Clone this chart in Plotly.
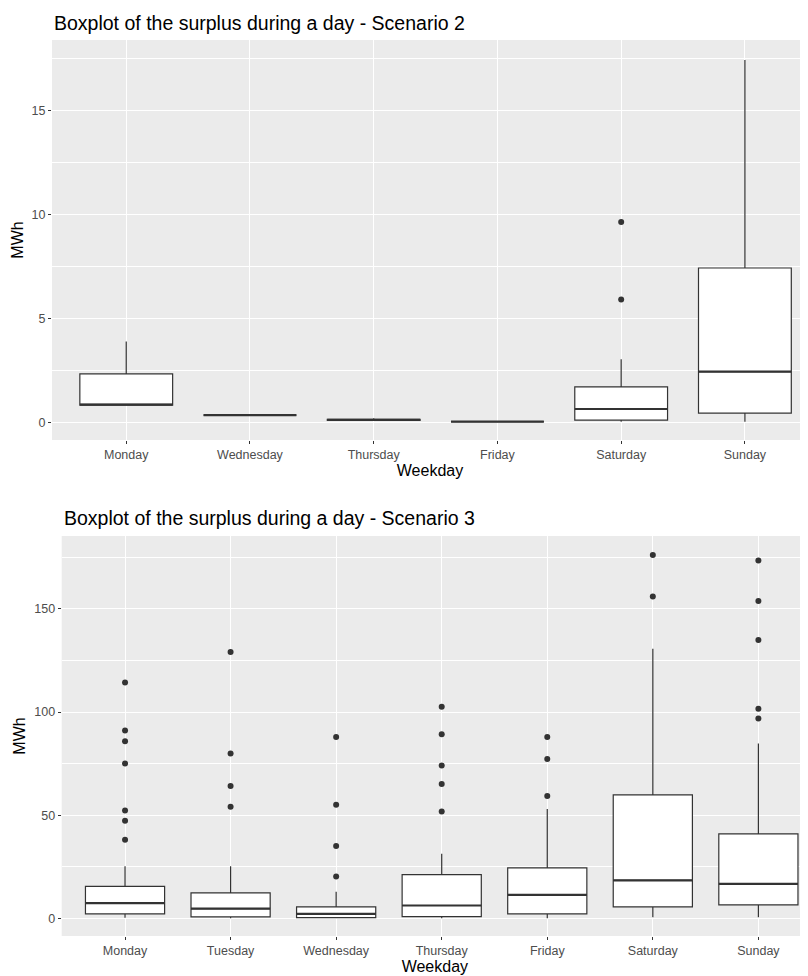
import plotly.graph_objects as go

# ---------------- Data: Scenario 2 ----------------
days2 = ["Monday", "Wednesday", "Thursday", "Friday", "Saturday", "Sunday"]
low2 = [0.85, 0.38, 0.12, 0.06, 0.06, 0.06]
q1_2 = [0.85, 0.38, 0.12, 0.06, 0.14, 0.47]
med2 = [0.88, 0.38, 0.15, 0.06, 0.67, 2.47]
q3_2 = [2.36, 0.38, 0.17, 0.06, 1.73, 7.45]
up2 = [3.91, 0.38, 0.22, 0.06, 3.06, 17.45]
out2 = [[], [], [], [], [9.66, 5.93], []]

# ---------------- Data: Scenario 3 ----------------
days3 = ["Monday", "Tuesday", "Wednesday", "Thursday", "Friday", "Saturday", "Sunday"]
low3 = [0.3, 0.0, 0.0, 0.0, 0.0, 0.5, 0.5]
q1_3 = [2.1, 0.7, 0.3, 0.8, 2.1, 5.5, 6.5]
med3 = [7.3, 4.7, 2.1, 6.2, 11.3, 18.4, 16.7]
q3_3 = [15.5, 12.3, 5.5, 21.2, 24.4, 59.8, 40.9]
up3 = [25.2, 25.2, 12.9, 31.3, 53.0, 130.7, 84.8]
out3 = [
    [114.3, 91.1, 85.8, 75.1, 52.3, 47.3, 38.1],
    [129.1, 79.9, 64.1, 54.1],
    [87.9, 55.1, 35.1, 20.2],
    [102.6, 89.3, 74.1, 65.1, 51.8],
    [87.9, 77.2, 59.3],
    [176.2, 156.0],
    [173.5, 153.9, 134.9, 101.6, 96.9],
]

BOXW = 0.75
LINE = "#333333"
FONT = "Liberation Sans, Arial, sans-serif"
W, H = 800, 968  # page body has an 8px margin

fig = go.Figure()


def add_panel(days, low, q1, med, q3, up, outs, xa, ya):
    pos = list(range(len(days)))
    fig.add_trace(go.Box(
        x=pos, q1=q1, median=med, q3=q3, lowerfence=low, upperfence=up,
        width=BOXW, whiskerwidth=0, fillcolor="white", line=dict(color=LINE, width=1.2),
        boxpoints=False, xaxis=xa, yaxis=ya, hoverinfo="skip", showlegend=False,
    ))
    mx, my = [], []
    for i, m in enumerate(med):
        mx += [i - BOXW / 2, i + BOXW / 2, None]
        my += [m, m, None]
    fig.add_trace(go.Scatter(x=mx, y=my, mode="lines", line=dict(color=LINE, width=2.2),
                             xaxis=xa, yaxis=ya, hoverinfo="skip", showlegend=False))
    ox, oy = [], []
    for i, o in enumerate(outs):
        ox += [i] * len(o)
        oy += o
    fig.add_trace(go.Scatter(x=ox, y=oy, mode="markers", marker=dict(color=LINE, size=6),
                             xaxis=xa, yaxis=ya, hoverinfo="skip", showlegend=False))


add_panel(days2, low2, q1_2, med2, q3_2, up2, out2, "x", "y")
add_panel(days3, low3, q1_3, med3, q3_3, up3, out3, "x2", "y2")

tickfont = dict(family=FONT, size=12.5, color="#4D4D4D")
titlefont = dict(family=FONT, size=16, color="black")

common_x = dict(showgrid=True, gridcolor="white", gridwidth=1.1, zeroline=False,
                ticks="outside", ticklen=3, tickcolor=LINE, tickwidth=1,
                tickfont=tickfont, showline=False, automargin=False)
common_y = dict(showgrid=True, gridcolor="white", gridwidth=1.1, zeroline=False,
                ticks="outside", ticklen=3, tickcolor=LINE, tickwidth=1,
                tickfont=tickfont, showline=False, automargin=False)

fig.update_layout(
    width=W, height=H,
    margin=dict(l=0, r=0, t=0, b=0, autoexpand=False),
    paper_bgcolor="white", plot_bgcolor="#EBEBEB",
    font=dict(family=FONT),
    xaxis=dict(common_x, domain=[44 / W, 1], anchor="y",
               range=[-0.6, 5.51], tickvals=list(range(len(days2))), ticktext=days2,
               title=dict(text="Weekday", font=titlefont, standoff=3)),
    yaxis=dict(common_y, domain=[1 - 432 / H, 1 - 32 / H], anchor="x",
               range=[-0.82, 18.41], tick0=0, dtick=5,
               minor=dict(dtick=2.5, showgrid=True, gridcolor="white", gridwidth=0.55),
               title=dict(text="MWh", font=titlefont, standoff=3)),
    xaxis2=dict(common_x, domain=[53.7 / W, 1], anchor="y2",
                range=[-0.6, 6.47], tickvals=list(range(len(days3))), ticktext=days3,
                title=dict(text="Weekday", font=titlefont, standoff=1)),
    yaxis2=dict(common_y, domain=[1 - 928 / H, 1 - 528 / H], anchor="x2",
                range=[-8.6, 185.4], tick0=0, dtick=50,
                minor=dict(dtick=25, showgrid=True, gridcolor="white", gridwidth=0.55),
                title=dict(text="MWh", font=titlefont, standoff=4)),
    annotations=[
        dict(text="Boxplot of the surplus during a day - Scenario 2", xref="paper", yref="paper",
             x=44 / W, y=1 - 15 / H, xanchor="left", yanchor="middle", showarrow=False,
             font=dict(family=FONT, size=19.5, color="black")),
        dict(text="Boxplot of the surplus during a day - Scenario 3", xref="paper", yref="paper",
             x=53.7 / W, y=1 - 510 / H, xanchor="left", yanchor="middle", showarrow=False,
             font=dict(family=FONT, size=19.5, color="black")),
    ],
)

fig.write_html("out.html")
